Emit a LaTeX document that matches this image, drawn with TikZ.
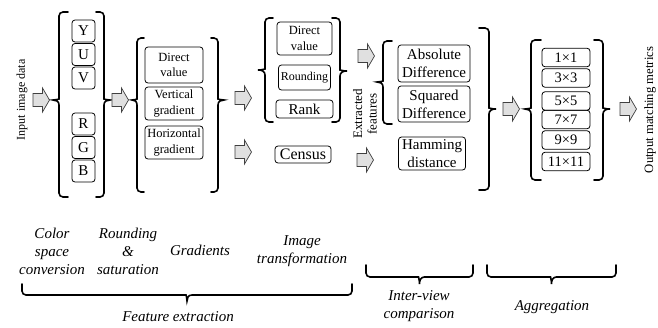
\documentclass[tikz,border=0pt]{standalone}
\usepackage{fontspec}
\setmainfont{Liberation Serif}
\newcommand\myfs[2]{\fontsize{#1}{#2}\selectfont}
% vertical brace: bodyx, hookx, tipx, top, bottom, tipy
\newcommand\vbr[6]{%
  \draw[brc, rounded corners=4pt] (#2,#4) -- (#1,#4) -- (#1,{#6-5}) [sharp corners]
    .. controls (#1,{#6-1}) and ({(#1+#3)/2},#6) .. (#3,#6)
    .. controls ({(#1+#3)/2},#6) and (#1,{#6+1}) .. (#1,{#6+5}) [rounded corners=4pt]
    -- (#1,#5) -- (#2,#5);}
% horizontal brace pointing down: x1, x2, yend, ybody, ytip
\newcommand\hbr[5]{%
  \draw[brc, rounded corners=4pt] (#1,#3) -- (#1,#4) -- ({(#1+#2)/2-5},#4) [sharp corners]
    .. controls ({(#1+#2)/2-1},#4) and ({(#1+#2)/2},{(#4+#5)/2}) .. ({(#1+#2)/2},#5)
    .. controls ({(#1+#2)/2},{(#4+#5)/2}) and ({(#1+#2)/2+1},#4) .. ({(#1+#2)/2+5},#4) [rounded corners=4pt]
    -- (#2,#4) -- (#2,#3);}
\begin{document}
\begin{tikzpicture}[x=1pt,y=-1pt,
  box/.style={draw, rounded corners=3pt, line width=0.8pt, align=center, inner sep=0pt},
  brc/.style={line width=1.6pt, line cap=round},
  arrowshape/.style={draw=black!75, fill=black!12, line width=0.7pt, line join=miter},
  lbl/.style={align=center, inner sep=0pt, font=\myfs{15}{18}\itshape},
  blockarrow/.pic={\draw[arrowshape] (0,-6.5) -- (9.5,-6.5) -- (9.5,-12) -- (16.5,0) -- (9.5,12) -- (9.5,6.5) -- (0,6.5) -- cycle;}
]
\useasboundingbox[fill=white] (0,0) rectangle (658,327);

% input label
\node[rotate=90, inner sep=0pt, font=\myfs{12}{14}] (inp) at (22,100) {Input image data};
\pic at (33,100) {blockarrow};

% colour space
\vbr{59}{68}{53}{12}{197}{100}
\vbr{104}{96}{110}{12}{197}{100}
\begin{scope}[every node/.style={box, minimum width=23pt, font=\myfs{15}{17}}]
\node[minimum height=22pt] (cY) at (83.5,31) {Y};
\node[minimum height=22pt] (cU) at (83.5,54.5) {U};
\node[minimum height=22pt] (cV) at (83.5,78) {V};
\node[minimum height=22pt] (cR) at (83.5,124) {R};
\node[minimum height=22pt] (cG) at (83.5,147.5) {G};
\node[minimum height=22pt] (cB) at (83.5,171) {B};
\end{scope}
\pic at (112,100) {blockarrow};

% gradients
\vbr{137}{144}{132}{38}{192}{100}
\vbr{218}{211}{224}{38}{192}{100}
\begin{scope}[every node/.style={box, minimum width=58pt, font=\myfs{12.5}{15.5}}]
\node[minimum height=36pt] (gd) at (174,65) {Direct\\value};
\node[minimum height=33pt] (gv) at (174,103.5) {Vertical\\gradient};
\node[minimum height=33pt] (gh) at (174,142.5) {Horizontal\\gradient};
\end{scope}
\pic at (235,98) {blockarrow};
\pic at (235,152) {blockarrow};

% transformation
\vbr{265}{273}{258}{18}{122}{70}
\vbr{340}{332}{347}{18}{122}{71}
\node[box, minimum width=55pt, minimum height=33pt, font=\myfs{12.5}{15.5}] (td) at (304.5,38.5) {Direct\\value};
\node[box, minimum width=52pt, minimum height=25pt, font=\myfs{12}{14}] (tr) at (304.5,77.5) {Rounding};
\node[box, minimum width=57pt, minimum height=18pt, font=\myfs{15}{17}] (tk) at (304.5,109) {Rank};
\node[box, minimum width=56pt, minimum height=17pt, font=\myfs{16}{18}] (tc) at (303,154.5) {Census};

\pic at (358,56) {blockarrow};
\pic at (357,160) {blockarrow};
\node[rotate=90, align=center, inner sep=0pt, font=\myfs{13}{14.5}] (ef) at (365,114) {Extracted\\features};

% comparison
\vbr{383}{392}{377}{41}{124}{82}
\begin{scope}[every node/.style={box, minimum width=72pt, font=\myfs{15}{18}}]
\node[minimum height=37pt] (ad) at (434,63.5) {Absolute\\Difference};
\node[minimum height=36pt] (sd) at (434,104) {Squared\\Difference};
\node[minimum height=33pt, minimum width=67pt] (hd) at (432,153.5) {Hamming\\distance};
\end{scope}
\vbr{489}{479}{496}{28}{190}{109}
\pic at (503,109) {blockarrow};

% aggregation
\vbr{531}{541}{525}{40}{180}{109}
\vbr{603}{594}{610}{40}{180}{109}
\begin{scope}[every node/.style={box, minimum width=48pt, minimum height=18.5pt, font=\myfs{14.5}{16}}]
\node (w1) at (566,57.5) {1×1};
\node (w3) at (566,78) {3×3};
\node (w5) at (566,101) {5×5};
\node (w7) at (566,119.5) {7×7};
\node (w9) at (566,140) {9×9};
\node (w11) at (566,161.5) {11×11};
\end{scope}
\pic at (620,109) {blockarrow};
\node[rotate=90, inner sep=0pt, font=\myfs{12.7}{14}] (out) at (650,110) {Output matching metrics};

% bottom labels
\node[lbl] (lc) at (52,251) {Color\\space\\conversion};
\node[lbl] (lr) at (128,251) {Rounding\\\&\\saturation};
\node[lbl] (lg) at (200,250) {Gradients};
\node[lbl] (li) at (302,251) {Image\\transformation};
\hbr{22}{352}{284}{295}{301}
\node[lbl] (lfe) at (178,317) {Feature extraction};
\hbr{366}{473}{265}{277}{284}
\node[lbl] (liv) at (419,306) {Inter-view\\comparison};
\hbr{487}{616}{265}{277}{284}
\node[lbl] (lag) at (552,307) {Aggregation};
\end{tikzpicture}
\end{document}
